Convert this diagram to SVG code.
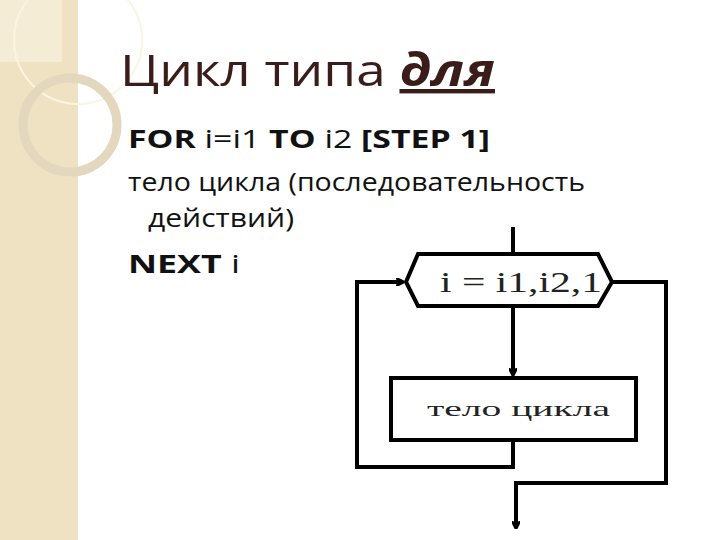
<svg xmlns="http://www.w3.org/2000/svg" width="720" height="540" viewBox="0 0 720 540">
<style>
.t{font-family:"Open Sans","DejaVu Sans",sans-serif;font-size:25px;fill:#111}
.b{font-weight:bold}
.ln{stroke:#000;stroke-width:4;fill:none}
.fc{font-family:"Liberation Serif",serif;fill:#222}
</style>
<defs><marker id="a" markerWidth="8" markerHeight="8" refX="7" refY="4" orient="auto" markerUnits="userSpaceOnUse"><path d="M0,0 L8,4 L0,8" fill="none" stroke="#000" stroke-width="2.5"/></marker></defs>
<rect width="720" height="540" fill="#fff"/>
<g id="deco">
<rect width="78" height="540" fill="#efe2c2"/>
<rect x="0" y="0" width="62" height="62" fill="#f5ecd6"/>
<circle cx="78" cy="40" r="64" fill="none" stroke="#fbf4e2" stroke-width="2"/>
<circle cx="70" cy="125" r="47" fill="none" stroke="#e3d8be" stroke-width="9"/>
</g>
<g id="text">
<text x="120" y="86" font-family="Open Sans,sans-serif" font-size="44" fill="#3a1d1a" textLength="375" lengthAdjust="spacingAndGlyphs">Цикл типа <tspan font-weight="bold" font-style="italic" text-decoration="underline">для</tspan></text>
<text class="t" x="128" y="148" textLength="362" lengthAdjust="spacingAndGlyphs"><tspan class="b">FOR</tspan> i=i1 <tspan class="b">TO</tspan> i2 <tspan class="b">[STEP 1]</tspan></text>
<text class="t" x="128" y="191" textLength="457" lengthAdjust="spacingAndGlyphs">тело цикла (последовательность</text>
<text class="t" x="148" y="227" textLength="146" lengthAdjust="spacingAndGlyphs">действий)</text>
<text class="t" x="128" y="273" textLength="112" lengthAdjust="spacingAndGlyphs"><tspan class="b">NEXT</tspan> i</text>
</g>
<g id="connectors">
<line class="ln" x1="513" y1="227" x2="513" y2="253"/>
<line class="ln" x1="513" y1="306" x2="513" y2="375" marker-end="url(#a)"/>
<polyline class="ln" points="513,440 513,467 357,467 357,282 403,282" marker-end="url(#a)"/>
<polyline class="ln" points="612,282 666,282 666,483 516,483 516,528" marker-end="url(#a)"/>
</g>
<g id="loop">
<polygon points="418,254 598,254 612,282 598,306 418,306 406,282" fill="#fff" stroke="#000" stroke-width="4"/>
<text class="fc" x="440" y="292" font-size="30" textLength="162" lengthAdjust="spacingAndGlyphs">i = i1,i2,1</text>
</g>
<g id="body">
<rect x="391" y="378" width="245" height="62" fill="#fff" stroke="#000" stroke-width="4"/>
<text class="fc" x="427" y="416" font-size="22" textLength="183" lengthAdjust="spacingAndGlyphs">тело цикла</text>
</g>
</svg>
